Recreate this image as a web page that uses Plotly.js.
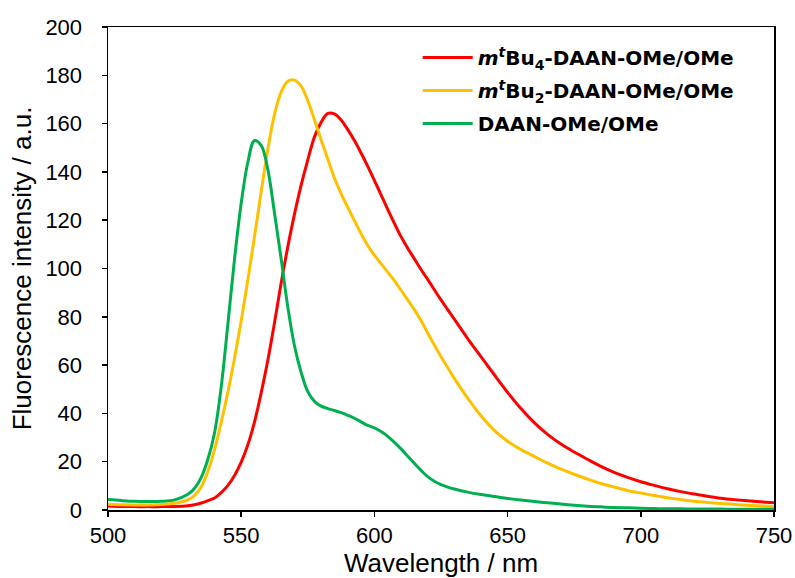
<!DOCTYPE html>
<html>
<head>
<meta charset="utf-8">
<script src="https://cdn.plot.ly/plotly-3.0.1.min.js"></script>
<style>html,body{margin:0;padding:0;background:#fff;}#chart{width:795px;height:578px;}</style>
</head>
<body>
<div id="chart"></div>
<script>
const wavelength = [500,505,510,515,520,525,530,532.5,535,537.5,540,542.5,545,547.5,550,552.5,555,557.5,560,562.5,565,567.5,570,572.5,575,577.5,580,582.5,585,587.5,590,592.5,595,597.5,600,602.5,605,607.5,610,612.5,615,617.5,620,622.5,625,627.5,630,635,640,645,650,655,660,665,670,675,680,685,690,695,700,705,710,715,720,725,730,735,740,745,750];

const tBu4 = [1.7,1.5,1.4,1.4,1.4,1.5,1.8,2.2,2.9,3.9,5.0,7.2,10.2,14.3,19.8,27,36.5,48.5,62,77.5,94,109,122.5,134.5,145,154.5,160.5,164.2,164,161.5,157.5,153,147.8,142.3,136.5,130.5,124.5,118.7,113.2,108.4,104,99.6,95.5,91.2,87,83,79,71,63.5,56,48.7,42,36.2,31.3,27.3,24,21,18.1,15.6,13.5,11.7,10.2,8.8,7.6,6.6,5.7,4.9,4.3,3.8,3.4,3.0];

const tBu2 = [2.4,2.2,2.1,2.1,2.3,2.8,4.2,6,9.5,16,25,36.3,48.8,62.8,78.3,95.3,113.3,131.8,149.3,163.8,173,177.5,178,175.5,169.5,161.5,153.3,145.3,137.5,131,125.3,119.8,114.5,109.5,105.5,102,98.5,95,91,87,83,78.5,73.3,68.3,63.5,59,54.5,46.3,39,33,28.5,25,22.2,19.4,16.9,14.8,12.8,11,9.5,8.1,7,6,5.1,4.3,3.6,3.1,2.7,2.3,2,1.7,1.4];

const daan = [4.3,3.9,3.6,3.5,3.6,4.2,6.5,9,13.5,21,32,51,77,104,127,144,153,151,141,123,104,84,68,57,49,45,43,42,41.2,40.3,39.2,38,36.5,35,34,32.5,30.5,28,25.3,22.3,19.3,16.4,13.8,11.9,10.5,9.5,8.7,7.4,6.4,5.6,4.8,4.1,3.5,3,2.5,2,1.6,1.3,1,0.9,0.7,0.6,0.5,0.5,0.4,0.4,0.4,0.3,0.3,0.3,0.3];

const seriesNames = [
  '<i>m</i><sup><i>t</i></sup>Bu<sub>4</sub>-DAAN-OMe/OMe',
  '<i>m</i><sup><i>t</i></sup>Bu<sub>2</sub>-DAAN-OMe/OMe',
  'DAAN-OMe/OMe'
];
const colors = ['#FF0000', '#FFC000', '#00B050'];
const xTicks = [500,550,600,650,700,750];
const yTicks = [0,20,40,60,80,100,120,140,160,180,200];

const ys = [tBu4, tBu2, daan];
const traces = ys.map((y, i) => ({
  x: wavelength, y: y, type: 'scatter', mode: 'lines', name: seriesNames[i],
  legendgroup: 'g' + i,
  line: {color: colors[i], width: 3, shape: 'spline', smoothing: 1}
}));

const font = {family: 'Liberation Sans, Arial, sans-serif', color: '#000'};
const layout = {
  width: 795, height: 578,
  margin: {l: 108, r: 21, t: 27, b: 68},
  paper_bgcolor: '#fff', plot_bgcolor: '#fff',
  font: Object.assign({size: 20}, font),
  showlegend: true,
  legend: {
    x: 0.465, y: 0.977, xanchor: 'left', yanchor: 'top',
    font: {family: 'DejaVu Sans, sans-serif', size: 20, color: '#000', weight: 'bold'},
    bgcolor: 'rgba(0,0,0,0)', tracegroupgap: 4, itemwidth: 50
  },
  xaxis: {
    range: [500, 750], tickvals: xTicks, ticktext: xTicks.map(String),
    ticks: 'outside', ticklen: 5, tickwidth: 1.5, tickcolor: '#000',
    showline: true, linecolor: '#000', linewidth: 1.5, mirror: true,
    showgrid: false, zeroline: false,
    tickfont: Object.assign({size: 22}, font),
    title: {text: 'Wavelength / nm', font: Object.assign({size: 26}, font), standoff: 6}
  },
  yaxis: {
    range: [0, 200], tickvals: yTicks, ticktext: yTicks.map(String),
    ticks: 'outside', ticklen: 5, tickwidth: 1.5, tickcolor: '#000',
    showline: true, linecolor: '#000', linewidth: 1.5, mirror: true,
    showgrid: false, zeroline: false, ticklabelstandoff: 15,
    tickfont: Object.assign({size: 22}, font),
    title: {text: 'Fluorescence intensity / a.u.', font: Object.assign({size: 26}, font), standoff: 6}
  }
};
Plotly.newPlot('chart', traces, layout, {displayModeBar: false, staticPlot: true});
</script>
</body>
</html>
